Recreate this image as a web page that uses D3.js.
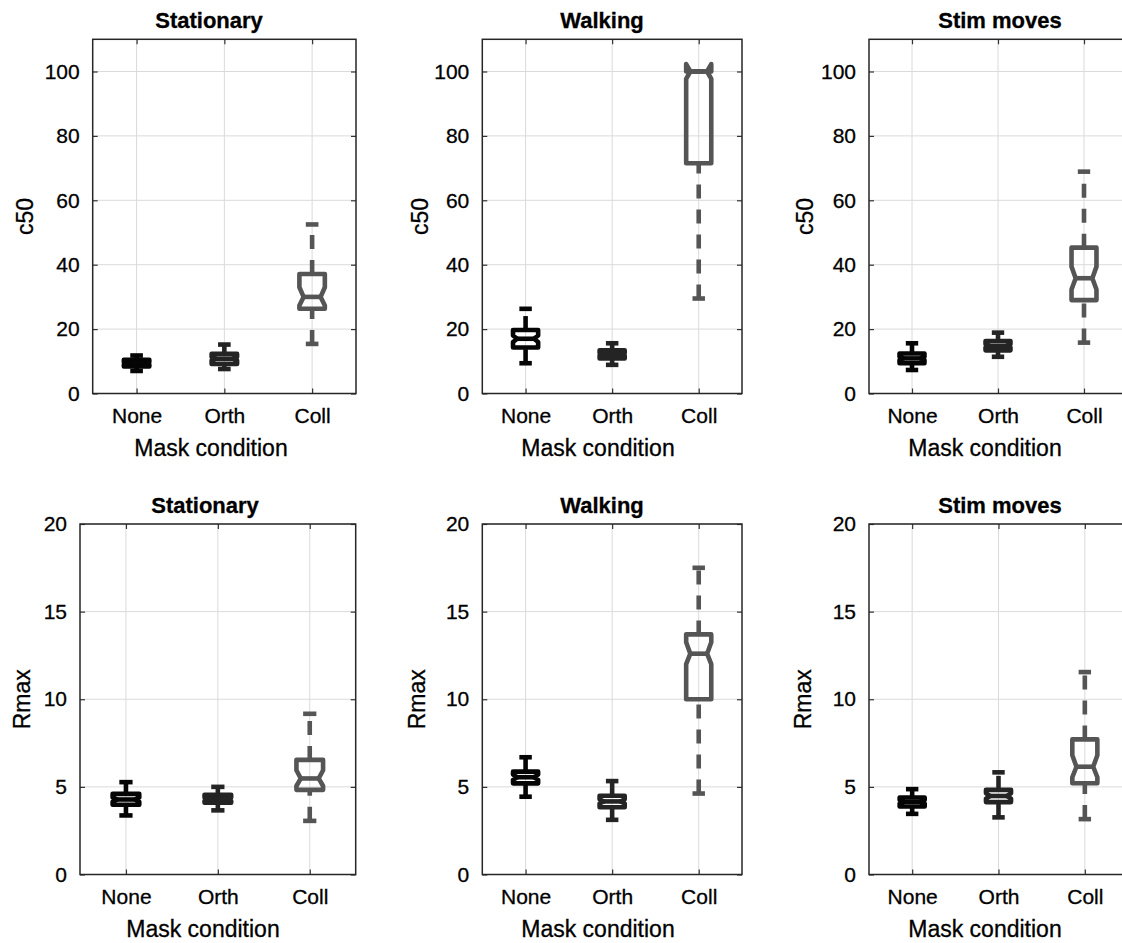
<!DOCTYPE html>
<html>
<head>
<meta charset="utf-8">
<script src="https://cdn.jsdelivr.net/npm/d3@7"></script>
<style>
  body { margin: 0; background: #fff; }
  svg { display: block; font-family: "Liberation Sans", Arial, Helvetica, sans-serif; }
  text { fill: #000; stroke: #000; stroke-width: 0.3px; }
</style>
</head>
<body>
<svg id="chart" width="1122" height="943"></svg>
<script>
// conditions (panel titles) and mask categories
const conditions = ["Stationary", "Walking", "Stim moves"];
const categories = ["None", "Orth", "Coll"];
const c50Ticks = [0, 20, 40, 60, 80, 100];
const rmaxTicks = [0, 5, 10, 15, 20];

// c50 box statistics, [condition][category]
const c50Lo      = [[7.0, 7.6, 15.4], [9.4, 8.9, 29.5], [7.3, 11.4, 15.8]];
const c50Q1      = [[8.4, 9.2, 26.3], [14.3, 10.9, 71.5], [9.4, 13.4, 29.0]];
const c50Med     = [[9.4, 10.8, 30.0], [17.0, 12.2, 100], [10.9, 14.8, 35.8]];
const c50Q3      = [[10.5, 12.3, 37.1], [19.7, 13.4, 100], [12.4, 16.3, 45.3]];
const c50Hi      = [[11.8, 15.2, 52.5], [26.3, 15.6, 100], [15.6, 18.9, 68.9]];
const c50NotchLo = [[9.0, 10.3, 27.3], [16.0, 11.8, 97.7], [10.4, 14.3, 32.3]];
const c50NotchHi = [[9.8, 11.3, 33.0], [18.0, 12.6, 102.3], [11.4, 15.3, 39.4]];

// Rmax box statistics, [condition][category]
const rmaxLo      = [[3.37, 3.66, 3.06], [4.44, 3.12, 4.62], [3.46, 3.26, 3.16]];
const rmaxQ1      = [[3.98, 4.10, 4.83], [5.20, 3.84, 10.0], [3.88, 4.13, 5.21]];
const rmaxMed     = [[4.28, 4.30, 5.48], [5.55, 4.17, 12.6], [4.15, 4.48, 6.15]];
const rmaxQ3      = [[4.60, 4.55, 6.54], [5.87, 4.49, 13.7], [4.39, 4.83, 7.71]];
const rmaxHi      = [[5.27, 5.00, 9.17], [6.69, 5.33, 17.5], [4.87, 5.83, 11.55]];
const rmaxNotchLo = [[4.15, 4.20, 5.05], [5.40, 4.05, 12.0], [4.05, 4.33, 5.55]];
const rmaxNotchHi = [[4.40, 4.40, 5.95], [5.70, 4.30, 13.25], [4.25, 4.63, 6.80]];

const catColor = {None: "#050505", Orth: "#242424", Coll: "#555555"};

const svg = d3.select("#chart");

const rows = [
  {label: "c50", ymax: 110, ticks: c50Ticks, top: 39.3, bottom: 393.5,
   lo: c50Lo, q1: c50Q1, med: c50Med, q3: c50Q3, hi: c50Hi, nlo: c50NotchLo, nhi: c50NotchHi,
   lefts: [92.7, 482.3, 869], rights: [356, 742, 1127], titleX: [209, 602, 1000],
   xlabelX: [211, 598, 985], labelX: [25, 420, 805]},
  {label: "Rmax", ymax: 20, ticks: rmaxTicks, top: 524, bottom: 874.5,
   lo: rmaxLo, q1: rmaxQ1, med: rmaxMed, q3: rmaxQ3, hi: rmaxHi, nlo: rmaxNotchLo, nhi: rmaxNotchHi,
   lefts: [80, 482.3, 869], rights: [355.7, 742, 1128], titleX: [205, 602, 1000],
   xlabelX: [203, 598, 985], labelX: [22, 417, 803]}
];

rows.forEach((row) => {
  conditions.forEach((cond, ci) => {
    const left = row.lefts[ci], right = row.rights[ci];
    const x = d3.scalePoint().domain(categories).range([left, right]).padding(0.5);
    const y = d3.scaleLinear().domain([0, row.ymax]).range([row.bottom, row.top]);
    const step = x.step();
    const hw = step * 0.145, capW = step * 0.072, ind = step * 0.048;

    const g = svg.append("g");

    // grid
    g.selectAll(".gy").data(row.ticks).join("line")
      .attr("x1", left).attr("x2", right)
      .attr("y1", d => y(d)).attr("y2", d => y(d))
      .attr("stroke", "#dadada").attr("stroke-width", 1);
    g.selectAll(".gx").data(categories).join("line")
      .attr("x1", d => x(d)).attr("x2", d => x(d))
      .attr("y1", row.top).attr("y2", row.bottom)
      .attr("stroke", "#dadada").attr("stroke-width", 1);

    // axes (ticks inward)
    const ax = g.append("g").attr("transform", `translate(${left},0)`)
      .call(d3.axisLeft(y).tickValues(row.ticks).tickSize(-5).tickPadding(13));
    ax.selectAll("text").attr("font-size", 21);
    g.append("g").attr("transform", `translate(${right},0)`)
      .call(d3.axisRight(y).tickValues(row.ticks).tickSize(-5).tickFormat(""));
    const bx = g.append("g").attr("transform", `translate(0,${row.bottom})`)
      .call(d3.axisBottom(x).tickSize(-5).tickPadding(15));
    bx.selectAll("text").attr("font-size", 21);
    g.append("g").attr("transform", `translate(0,${row.top})`)
      .call(d3.axisTop(x).tickSize(-5).tickFormat(""));
    g.selectAll(".domain").remove();
    g.selectAll(".tick line").attr("stroke", "#333").attr("stroke-width", 1.2);

    g.append("rect")
      .attr("x", left).attr("y", row.top)
      .attr("width", right - left).attr("height", row.bottom - row.top)
      .attr("fill", "none").attr("stroke", "#262626").attr("stroke-width", 1.5);

    // boxes
    categories.forEach((cat, k) => {
      const cx = x(cat);
      const col = catColor[cat];
      const lo = row.lo[ci][k], q1 = row.q1[ci][k], md = row.med[ci][k];
      const q3 = row.q3[ci][k], hi = row.hi[ci][k];
      const nlo = row.nlo[ci][k], nhi = row.nhi[ci][k];
      const bg = g.append("g").attr("stroke", col).attr("fill", "none")
        .attr("stroke-width", 4.6);

      // upper whisker from q3 up, lower whisker from lower adjacent up to q1
      bg.append("line").attr("x1", cx).attr("x2", cx)
        .attr("y1", y(q3)).attr("y2", y(hi))
        .attr("stroke-dasharray", "14,11");
      bg.append("line").attr("x1", cx).attr("x2", cx)
        .attr("y1", y(lo)).attr("y2", y(q1))
        .attr("stroke-dasharray", "14,11");
      // caps
      [lo, hi].forEach(v => {
        bg.append("line").attr("x1", cx - capW).attr("x2", cx + capW)
          .attr("y1", y(v)).attr("y2", y(v));
      });

      // notched box
      const p = d3.path();
      p.moveTo(cx - hw, y(q1));
      p.lineTo(cx - hw, y(nlo));
      p.lineTo(cx - hw + ind, y(md));
      p.lineTo(cx - hw, y(nhi));
      p.lineTo(cx - hw, y(q3));
      p.lineTo(cx + hw, y(q3));
      p.lineTo(cx + hw, y(nhi));
      p.lineTo(cx + hw - ind, y(md));
      p.lineTo(cx + hw, y(nlo));
      p.lineTo(cx + hw, y(q1));
      p.closePath();
      bg.append("path").attr("d", p.toString())
        .attr("stroke-linejoin", "round");
      // median
      bg.append("line").attr("x1", cx - hw + ind).attr("x2", cx + hw - ind)
        .attr("y1", y(md)).attr("y2", y(md));
    });

    // labels
    svg.append("text").attr("x", row.titleX[ci]).attr("y", row.top - 11.5)
      .attr("text-anchor", "middle").attr("font-size", 22).attr("font-weight", "bold")
      .text(cond);
    svg.append("text").attr("x", row.xlabelX[ci])
      .attr("y", row.bottom + 62)
      .attr("text-anchor", "middle").attr("font-size", 23)
      .text("Mask condition");
    svg.append("text")
      .attr("transform", `translate(${row.labelX[ci] + 8},${(row.top + row.bottom) / 2}) rotate(-90)`)
      .attr("text-anchor", "middle").attr("font-size", 23)
      .text(row.label);
  });
});
</script>
</body>
</html>
